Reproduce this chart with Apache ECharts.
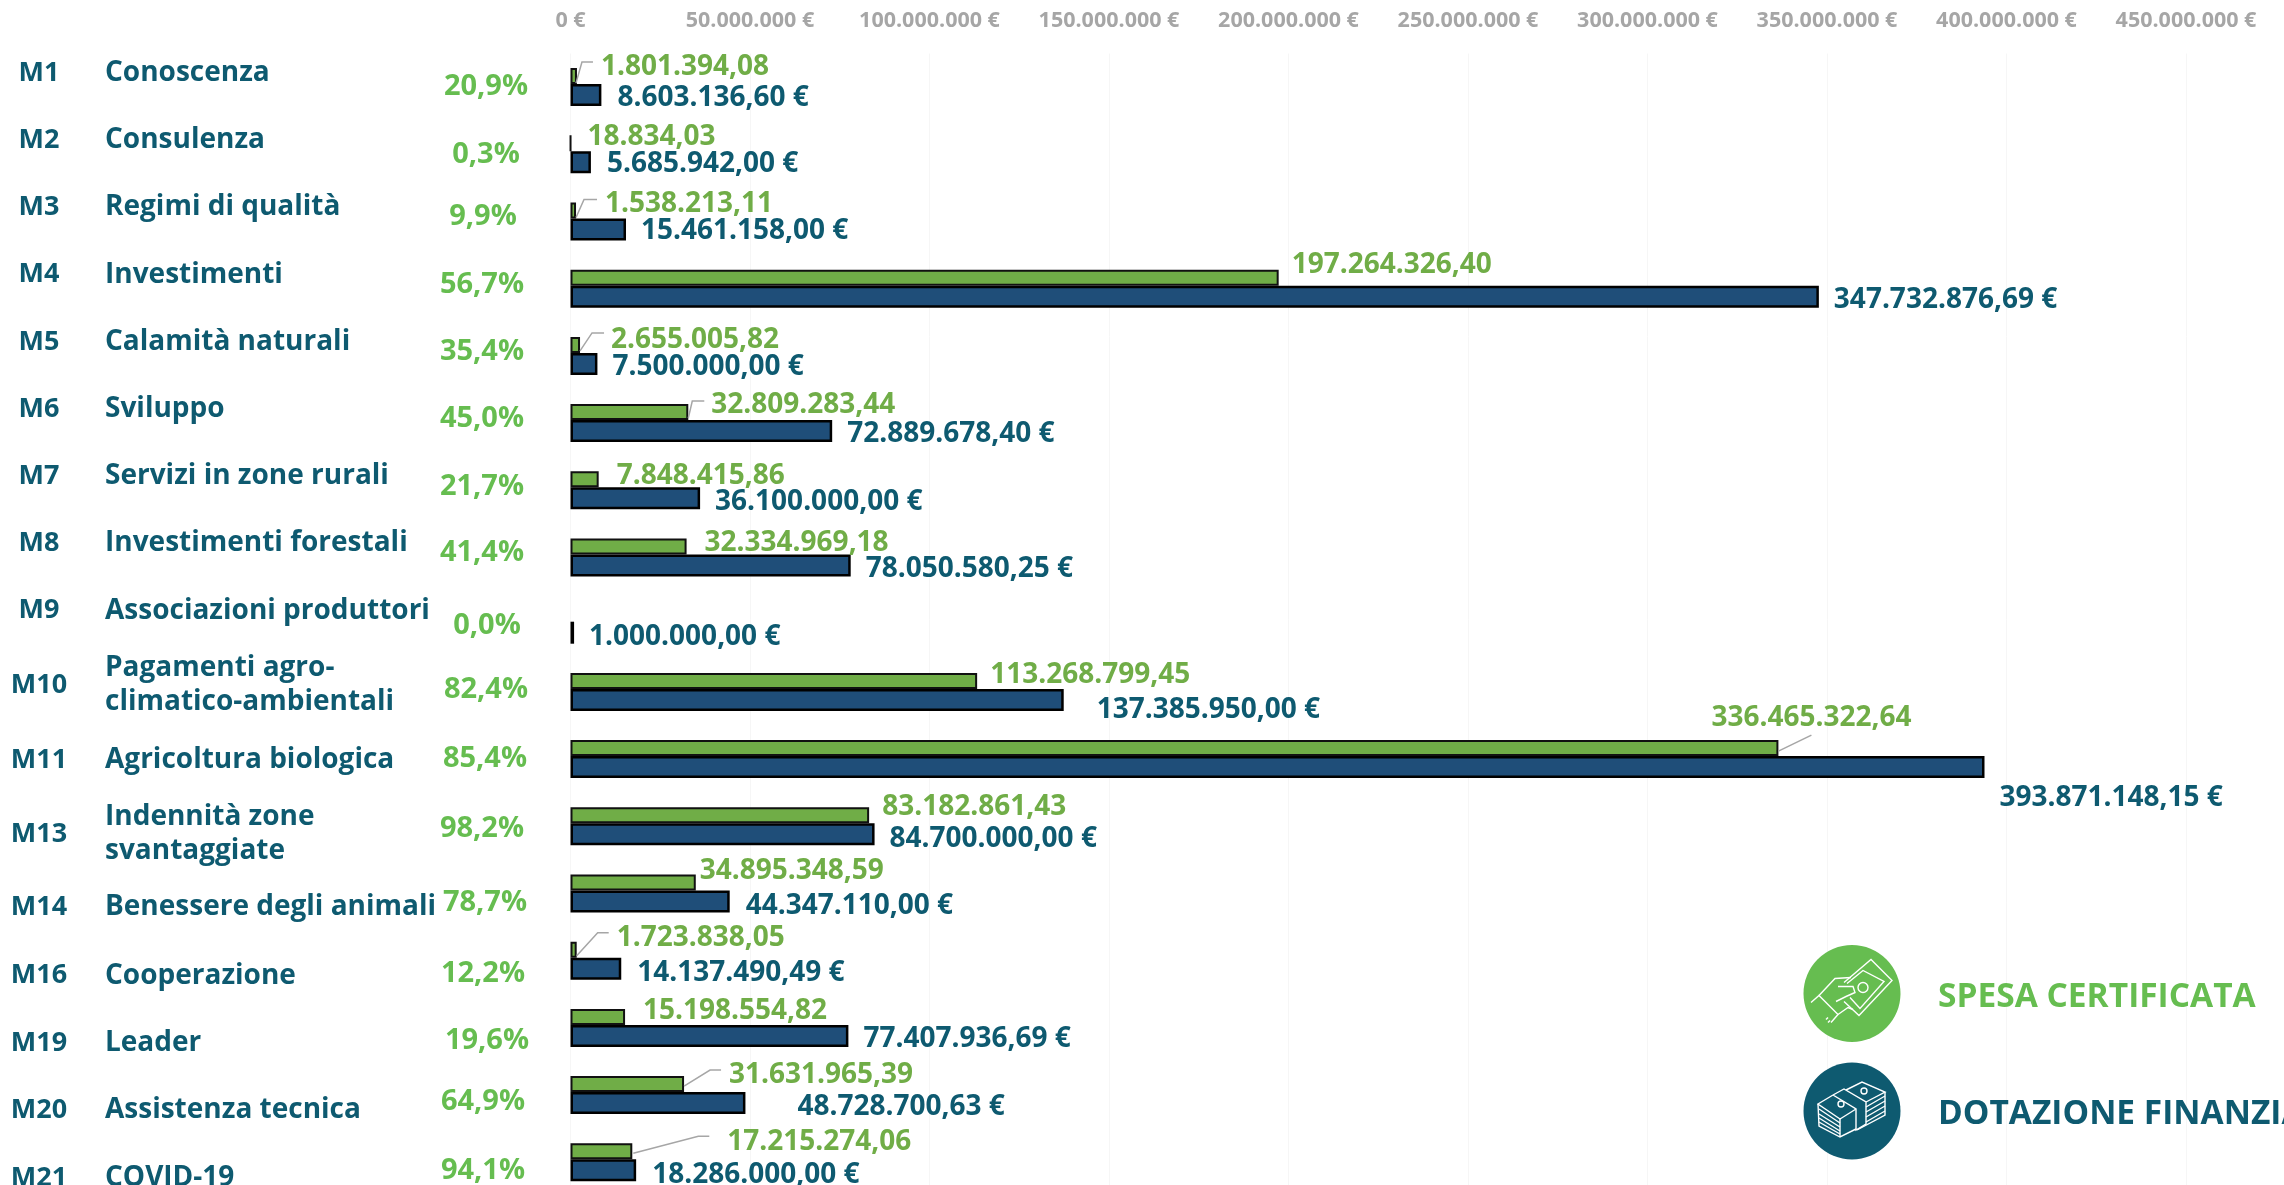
<!DOCTYPE html>
<html>
<head>
    <meta charset="utf-8">
    <title>Spesa certificata e dotazione finanziaria</title>
    <script src="https://cdn.jsdelivr.net/npm/echarts@6/dist/echarts.min.js"></script>
    <style>
        html, body { margin: 0; padding: 0; background: #fff; overflow: hidden; }
        #chart { width: 2284px; height: 1185px; }
    </style>
</head>
<body>
<div id="chart"></div>
<script>
    var codes = ['M1', 'M2', 'M3', 'M4', 'M5', 'M6', 'M7', 'M8', 'M9', 'M10', 'M11', 'M13', 'M14', 'M16', 'M19', 'M20', 'M21'];
    var names = ['Conoscenza', 'Consulenza', 'Regimi di qualità', 'Investimenti', 'Calamità naturali', 'Sviluppo',
        'Servizi in zone rurali', 'Investimenti forestali', 'Associazioni produttori', 'Pagamenti agro-\nclimatico-ambientali',
        'Agricoltura biologica', 'Indennità zone\nsvantaggiate', 'Benessere degli animali', 'Cooperazione', 'Leader',
        'Assistenza tecnica', 'COVID-19'];
    var percents = ['20,9%', '0,3%', '9,9%', '56,7%', '35,4%', '45,0%', '21,7%', '41,4%', '0,0%', '82,4%', '85,4%', '98,2%',
        '78,7%', '12,2%', '19,6%', '64,9%', '94,1%'];
    var spesa = [1801394.08, 18834.03, 1538213.11, 197264326.40, 2655005.82, 32809283.44, 7848415.86, 32334969.18, null,
        113268799.45, 336465322.64, 83182861.43, 34895348.59, 1723838.05, 15198554.82, 31631965.39, 17215274.06];
    var dotazione = [8603136.60, 5685942.00, 15461158.00, 347732876.69, 7500000.00, 72889678.40, 36100000.00, 78050580.25,
        1000000.00, 137385950.00, 393871148.15, 84700000.00, 44347110.00, 14137490.49, 77407936.69, 48728700.63, 18286000.00];

    // spostamenti a mano delle etichette, come nell'originale
    var nameDy = [-14, -14, -14, -14, -14, -14, -14, -14, -14, -7, 1, 8, 14, 15, 15, 15, 16];
    var percentDy = [0, 0, -5, -4, -4, -4, -4, -5, 1, -2, 0, 2, 9, 13, 13, 7, 8];
    var percentX = [486, 486, 483, 482, 482, 482, 482, 482, 487, 486, 485, 482, 485, 483, 487, 483, 483];
    var spesaNudge = [[19, -9], [11, -6], [24, -6], [8, -13], [26, -5], [18, -7], [13, -3], [13, -3], [0, 0], [8, -6],
        [-72, -30], [8, -8], [-1, -11], [35, -12], [13, -6], [40, -9], [90, -9]];
    var dotazioneNudge = [[11, 3], [11, 2], [10, 2], [10, 3], [10, 3], [10, 3], [10, 4], [10, 4], [10, 4], [28, 10],
        [10, 31], [10, 5], [11, 5], [11, 4], [10, 3], [47, 4], [11, 5]];
    // linee guida: tratti in px rispetto alla fine della barra verde
    var leaderLines = {
        M1: [[-1, 7], [5, -14], [16, -14]],
        M3: [[0, 7], [8, -11], [21, -11]],
        M5: [[0, 6], [12, -12], [24, -12]],
        M6: [[0, 6], [4, -11], [16, -11]],
        M11: [[0, 3], [33, -13]],
        M16: [[0, 6], [21, -17], [32, -17]],
        M20: [[0, 2], [26, -14], [37, -14]],
        M21: [[1, 2], [66, -15], [77, -15]]
    };

    var GREEN = '#66bd50';
    var BAR_GREEN = '#70ad47';
    var TEAL = '#0e5a70';
    var FONT = 'Open Sans';
    var GREEN_CENTER = -11;

    function euro(v) {
        var p = v.toFixed(2).split('.');
        return p[0].replace(/\B(?=(\d{3})+(?!\d))/g, '.') + ',' + p[1];
    }

    function nudge(list) {
        return function (params) {
            var n = list[params.dataIndex];
            return { dx: n[0], dy: n[1] };
        };
    }

    // colonna di sinistra: codice, misura e percentuale agganciati alle righe dell'asse
    function renderLeft(params, api) {
        var i = api.value(1);
        var y = api.coord([0, i])[1];
        return {
            type: 'group',
            silent: true,
            children: [
                { type: 'text', style: { x: 39, y: y + nameDy[i], text: codes[i], align: 'center', verticalAlign: 'middle',
                    fill: TEAL, font: '700 27px "' + FONT + '"' } },
                { type: 'text', style: { x: 105, y: y + nameDy[i], text: names[i], align: 'left', verticalAlign: 'middle',
                    fill: TEAL, font: '700 28px "' + FONT + '"', lineHeight: 34 } },
                { type: 'text', style: { x: percentX[i], y: y + percentDy[i], text: percents[i], align: 'center', verticalAlign: 'middle',
                    fill: GREEN, font: '700 29px "' + FONT + '"' } }
            ]
        };
    }

    function renderLeader(params, api) {
        var p = api.coord([api.value(0), api.value(1)]);
        var pts = leaderLines[codes[api.value(1)]].map(function (o) {
            return [p[0] + o[0], p[1] + GREEN_CENTER + o[1]];
        });
        return { type: 'polyline', silent: true, shape: { points: pts }, style: { fill: null, stroke: '#a6a6a6', lineWidth: 1.5 } };
    }

    // icone della legenda, tratti bianchi sopra al cerchio
    var billIcon = [
        [[-8, -11], [19, -34], [40, -13], [7, 22], [-8, 8]],
        [[-5, -10], [11, -23], [32, -12], [8, 15], [-2, 4]],
        [[-41, 9], [-33, 2], [-14, 21], [-21, 29]],
        [[-33, 2], [-17, -15], [-1, -16]],
        [[-14, -7], [1, -7], [3, -1], [-6, 3], [-16, 8]],
        [[-14, 21], [-4, 14], [1, 16]],
        [[-26, 26], [-24, 24]], [[-24, 29], [-22, 27]]
    ];
    var stackIcon = [
        [[-19, -16], [-34, -7], [-12, 8], [4, -2]],
        [[-34, -7], [-33, 15], [-12, 26], [4, 18]],
        [[-12, 8], [-12, 26]],
        [[-33, -2], [-12, 12]], [[-33, 3], [-12, 16]], [[-33, 7], [-12, 20]], [[-33, 11], [-12, 23]],
        [[-6, -21], [10, -29], [33, -19], [14, -9]],
        [[33, -19], [33, 4], [5, 19]],
        [[33, -15], [14, -4]], [[33, -10], [14, 1]], [[33, -5], [14, 6]], [[33, 0], [14, 11]],
        [[-19, -16], [-8, -22], [14, -9], [14, 13], [4, 19], [4, -2], [-19, -16]]
    ];

    function icon(cx, cy, lines, rings, color) {
        var children = [{ type: 'circle', z: 10, shape: { cx: 0, cy: 0, r: 48.5 }, style: { fill: color } }];
        lines.forEach(function (pts) {
            children.push({ type: 'polyline', z: 11, shape: { points: pts }, style: { fill: null, stroke: '#fff', lineWidth: 1.4 } });
        });
        rings.forEach(function (r) {
            children.push({ type: 'circle', z: 11, shape: { cx: r[0], cy: r[1], r: r[2] }, style: { fill: null, stroke: '#fff', lineWidth: 1.4 } });
        });
        return { type: 'group', x: cx, y: cy, silent: true, children: children };
    }

    var myChart = echarts.init(document.getElementById('chart'));

    myChart.setOption({
        animation: false,
        textStyle: { fontFamily: FONT },
        // le ultime righe finiscono al bordo, niente ridimensionamento automatico
        grid: { left: 570.5, top: 53.5, width: 1615.5, height: 1142.4, outerBoundsMode: 'none' },
        xAxis: {
            type: 'value',
            position: 'top',
            min: 0,
            max: 450000000,
            interval: 50000000,
            axisLine: { show: false },
            axisTick: { show: false },
            axisLabel: {
                margin: 21.5,
                color: '#a6a6a6',
                fontWeight: 700,
                fontSize: 21.5,
                formatter: function (v) {
                    return String(v).replace(/\B(?=(\d{3})+(?!\d))/g, '.') + ' €';
                }
            },
            splitLine: { lineStyle: { color: '#f6f6f6', width: 1 } }
        },
        yAxis: {
            type: 'category',
            inverse: true,
            data: codes,
            axisLine: { show: false },
            axisTick: { show: false },
            axisLabel: { show: false }
        },
        series: [
            {
                name: 'SPESA CERTIFICATA',
                type: 'bar',
                barWidth: 16,
                barGap: '0%',
                data: spesa,
                itemStyle: { color: BAR_GREEN, borderColor: '#111', borderWidth: 2 },
                label: {
                    show: true,
                    position: 'right',
                    distance: 5,
                    color: BAR_GREEN,
                    fontWeight: 700,
                    fontSize: 28,
                    formatter: function (p) { return euro(p.value); }
                },
                labelLayout: nudge(spesaNudge)
            },
            {
                name: 'DOTAZIONE FINANZIARIA',
                type: 'bar',
                barWidth: 22,
                data: dotazione,
                itemStyle: { color: '#1f4e79', borderColor: '#000', borderWidth: 2.5 },
                label: {
                    show: true,
                    position: 'right',
                    distance: 5,
                    color: TEAL,
                    fontWeight: 700,
                    fontSize: 28,
                    formatter: function (p) { return euro(p.value) + ' €'; }
                },
                labelLayout: nudge(dotazioneNudge)
            },
            {
                type: 'custom',
                renderItem: renderLeft,
                data: codes.map(function (c, i) { return [0, i]; }),
                encode: { x: 0, y: 1 },
                z: 5
            },
            {
                type: 'custom',
                renderItem: renderLeader,
                data: codes.map(function (c, i) { return [spesa[i], i]; }).filter(function (d) { return leaderLines[codes[d[1]]]; }),
                encode: { x: 0, y: 1 },
                z: 6
            }
        ],
        graphic: [
            icon(1852, 993.5, billIcon, [[11, -6, 5]], GREEN),
            { type: 'text', z: 10, x: 1938, y: 997, style: { text: 'SPESA CERTIFICATA', fill: GREEN, font: '700 33.5px "' + FONT + '"', verticalAlign: 'middle' } },
            icon(1852, 1111, stackIcon, [[-11, -7, 3], [12, -20, 3]], TEAL),
            { type: 'text', z: 10, x: 1938, y: 1114, style: { text: 'DOTAZIONE FINANZIARIA', fill: TEAL, font: '700 33.5px "' + FONT + '"', verticalAlign: 'middle' } }
        ]
    });
</script>
</body>
</html>
